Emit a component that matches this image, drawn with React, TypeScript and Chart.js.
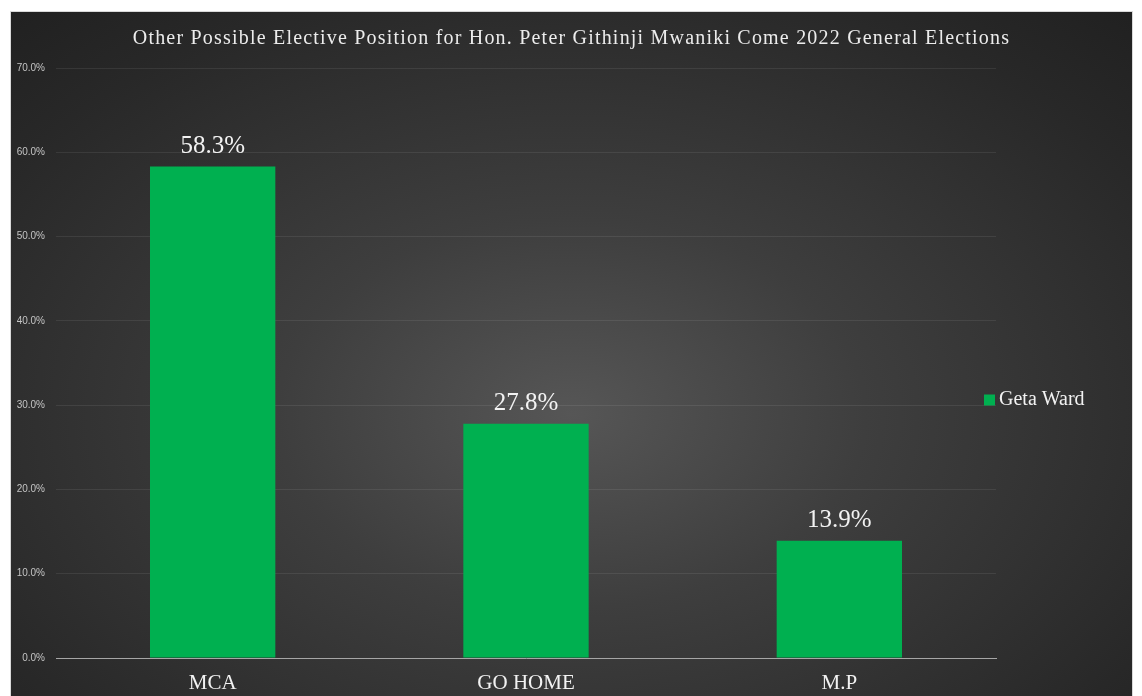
import React, { useEffect, useRef } from 'react';
import { Chart, registerables } from 'chart.js';

Chart.register(...registerables);

const TITLE = 'Other Possible Elective Position for Hon. Peter Githinji Mwaniki Come 2022 General Elections';
const categories = ['MCA', 'GO HOME', 'M.P'];
const seriesName = 'Geta Ward';
const values = [58.3, 27.8, 13.9];
const yMin = 0;
const yMax = 70;
const yStep = 10;

const SERIF = '"Liberation Serif", "DejaVu Serif", serif';
const GREEN = '#00B050';

export default function App() {
  const ref = useRef<HTMLCanvasElement>(null);

  useEffect(() => {
    if (!ref.current) return;
    const overlay = {
      id: 'overlay',
      afterDatasetsDraw(chart: any) {
        const ctx = chart.ctx as CanvasRenderingContext2D;
        const meta = chart.getDatasetMeta(0);
        ctx.save();
        // data labels
        ctx.fillStyle = '#f2f2f2';
        ctx.font = `25px ${SERIF}`;
        ctx.textAlign = 'center';
        ctx.textBaseline = 'middle';
        meta.data.forEach((bar: any, i: number) => {
          ctx.fillText(values[i].toFixed(1) + '%', bar.x, bar.y - 20);
        });
        // title
        ctx.font = `20px ${SERIF}`;
        (ctx as any).letterSpacing = '1.2px';
        ctx.fillStyle = '#ececec';
        ctx.fillText(TITLE, chart.width / 2, 28);
        (ctx as any).letterSpacing = '0px';
        // legend
        const cy = (chart.chartArea.top + chart.chartArea.bottom) / 2 + 37;
        const lx = chart.chartArea.right - 12;
        ctx.fillStyle = GREEN;
        ctx.fillRect(lx, cy - 5.5, 11, 11);
        ctx.fillStyle = '#f2f2f2';
        ctx.font = `20px ${SERIF}`;
        ctx.textAlign = 'left';
        ctx.fillText(chart.data.datasets[0].label, lx + 15, cy);
        ctx.restore();
      },
    };

    const chart = new Chart(ref.current, {
      type: 'bar',
      data: {
        labels: categories,
        datasets: [
          {
            label: seriesName,
            data: values,
            backgroundColor: GREEN,
            borderWidth: 0,
            barPercentage: 0.4,
            categoryPercentage: 1,
          },
        ],
      },
      options: {
        animation: false,
        responsive: false,
        maintainAspectRatio: false,
        layout: { padding: { top: 57, right: 137, left: 0, bottom: 0 } },
        plugins: {
          legend: { display: false },
          title: { display: false },
          tooltip: { enabled: false },
        },
        scales: {
          x: {
            grid: { display: false, drawTicks: false },
            border: { display: true, color: '#a6a6a6', width: 1 },
            ticks: {
              color: '#f2f2f2',
              font: { family: SERIF, size: 21 },
              padding: 13,
            },
            afterFit(scale: any) {
              scale.height = 38;
            },
          },
          y: {
            min: yMin,
            max: yMax,
            grid: { color: 'rgba(255,255,255,0.08)', drawTicks: false },
            border: { display: false },
            ticks: {
              stepSize: yStep,
              color: '#c4c4c4',
              font: { family: '"Liberation Sans Narrow", "Liberation Sans", Arial, sans-serif', size: 10 },
              padding: 11,
              callback: (v: any) => Number(v).toFixed(1) + '%',
            },
            afterFit(scale: any) {
              scale.width = 46;
            },
          },
        },
      },
      plugins: [overlay],
    });
    return () => chart.destroy();
  }, []);

  return (
    <div
      style={{
        position: 'absolute',
        left: 10,
        top: 11,
        width: 1123,
        height: 695,
        border: '1px solid #d9d9d9',
        boxSizing: 'border-box',
        background:
          'radial-gradient(ellipse 75% 80% at 50% 58%, #565656 0%, #3e3e3e 35%, #282828 80%, #202020 100%)',
        overflow: 'hidden',
      }}
    >
      <canvas ref={ref} width={1123} height={685} style={{ display: 'block', position: 'absolute', left: -1, top: -1 }} />
    </div>
  );
}
